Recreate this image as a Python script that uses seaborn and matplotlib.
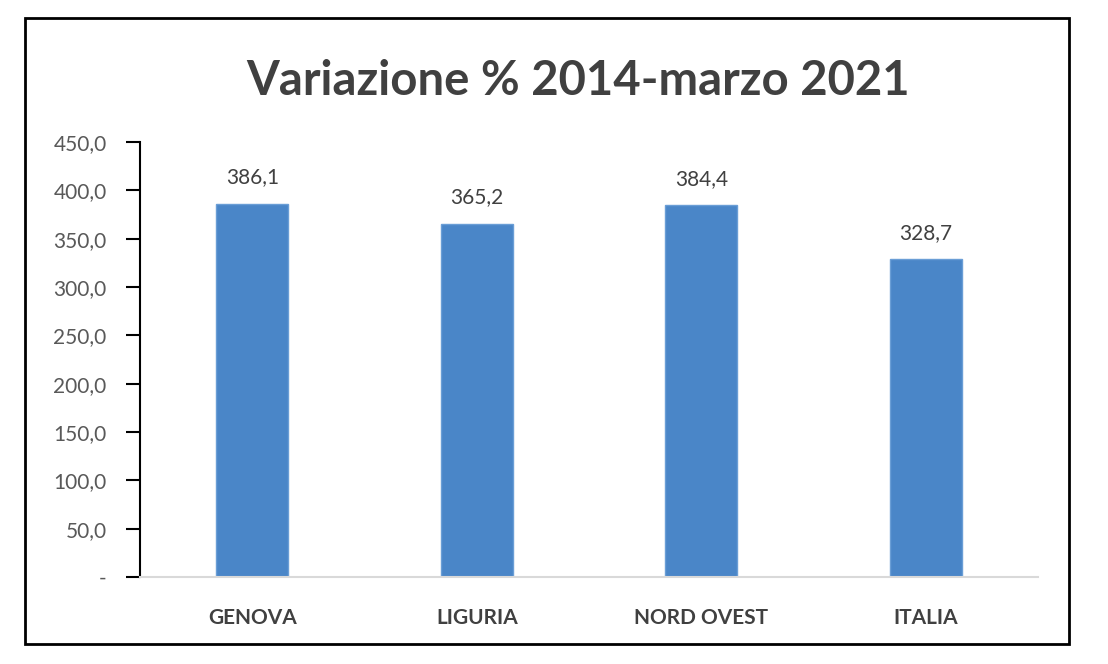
import numpy as np
import pandas as pd
import seaborn as sns
import matplotlib.pyplot as plt
from matplotlib.patches import Rectangle

# data
categories = ['GENOVA', 'LIGURIA', 'NORD OVEST', 'ITALIA']
values = [386.1, 365.2, 384.4, 328.7]
value_labels = ['386,1', '365,2', '384,4', '328,7']
yticks = [0, 50, 100, 150, 200, 250, 300, 350, 400, 450]
ytick_labels = ['-', '50,0', '100,0', '150,0', '200,0', '250,0', '300,0',
                '350,0', '400,0', '450,0']

df = pd.DataFrame({'area': categories, 'var': values})

sns.set_style('white')
plt.rcParams['font.family'] = ['Lato', 'DejaVu Sans']

fig = plt.figure(figsize=(11.08, 6.64), dpi=100)
ax = fig.add_axes([0.1264, 0.131, 0.8104, 0.655])

sns.barplot(data=df, x='area', y='var', color='#4a86c8', width=0.32,
            saturation=1, edgecolor='#6a9ed6', linewidth=1, ax=ax)

ax.set_ylim(0, 450)
ax.set_xlim(-0.5, 3.5)
ax.set_yticks(yticks)
ax.set_yticklabels(ytick_labels, fontsize=15, color='#595959')
ax.set_xticks(range(len(categories)))
ax.set_xticklabels(categories, fontsize=15, fontweight='bold', color='#404040')
ax.set_xlabel('')
ax.set_ylabel('')
ax.tick_params(axis='y', which='both', left=True, length=10, width=1.5,
               color='black', pad=14)
ax.tick_params(axis='x', length=0, pad=22)

for s in ['top', 'right']:
    ax.spines[s].set_visible(False)
ax.spines['left'].set_color('black')
ax.spines['left'].set_linewidth(1.5)
ax.spines['bottom'].set_color('#d9d9d9')
ax.spines['bottom'].set_linewidth(1.5)

# data labels
for i, (v, lab) in enumerate(zip(values, value_labels)):
    ax.annotate(lab, (i, v), xytext=(0, 12), textcoords='offset points',
                ha='center', va='bottom', fontsize=15, color='#404040')

fig.text(0.522, 0.878, 'Variazione % 2014-marzo 2021', ha='center', va='center',
         fontsize=34, fontweight='bold', color='#404040')

# outer frame
fig.patches.append(Rectangle((25 / 1108, 1 - 644 / 664), 1044 / 1108, 626 / 664,
                             transform=fig.transFigure, fill=False,
                             edgecolor='black', linewidth=2))

plt.savefig('out.png', dpi=100)
